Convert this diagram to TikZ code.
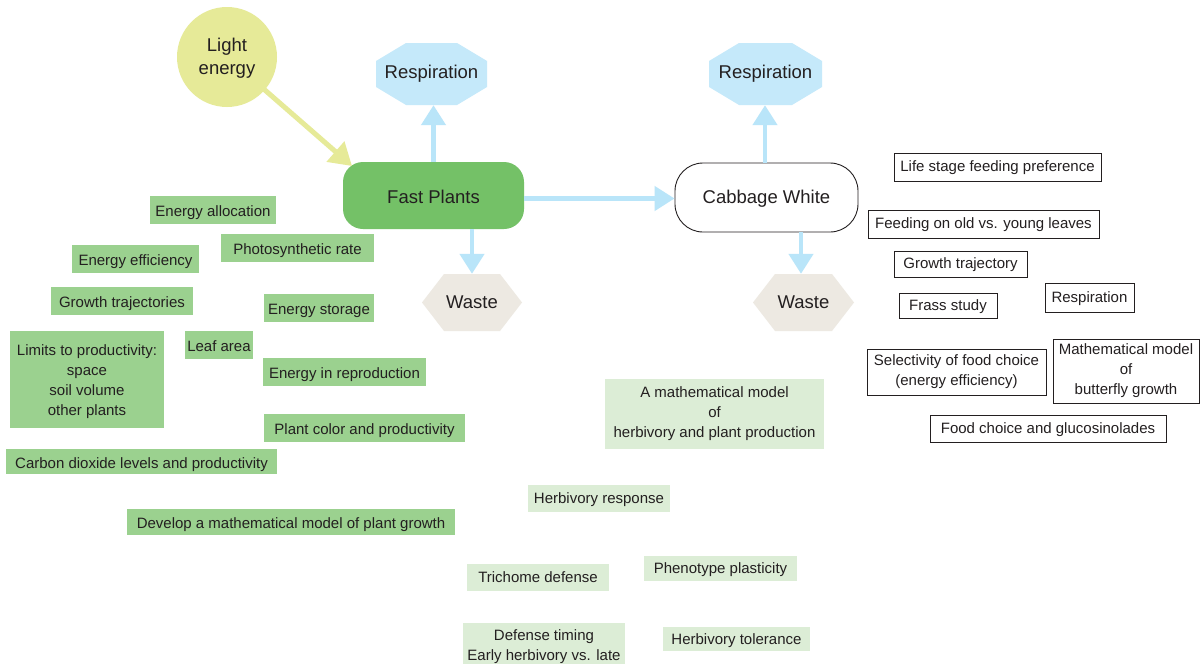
\documentclass[tikz,border=0pt]{standalone}
\usepackage{fontspec}
\setmainfont{Liberation Sans}
\usetikzlibrary{arrows.meta}
\definecolor{ink}{HTML}{231F20}
\definecolor{lightY}{HTML}{E6EA98}
\definecolor{fastG}{HTML}{74C167}
\definecolor{medG}{HTML}{9BD18F}
\definecolor{paleG}{HTML}{DCEDD6}
\definecolor{respB}{HTML}{C5E9FA}
\definecolor{arrB}{HTML}{B9E5F9}
\definecolor{wasteC}{HTML}{EDE9E2}
\newcommand{\smallfs}{\fontsize{15}{20}\selectfont}
\newcommand{\bigfs}{\fontsize{18.5}{23}\selectfont}
\newcommand{\dn}[2][2.3pt]{\raisebox{-#1}[\height][\depth]{#2}}
\tikzset{
  base/.style={inner sep=0pt, align=center, text=ink, font=\smallfs},
  sz/.style 2 args={minimum width=#1pt, minimum height=#2pt},
  gmed/.style={base, fill=medG, text height=14.2pt, text depth=0.8pt},
  gpale/.style={base, fill=paleG, text height=11.5pt, text depth=1.5pt},
  wbox/.style={base, draw=ink, line width=0.9pt, fill=white, text height=11pt, text depth=1.8pt},
  bigtxt/.style={base, font=\bigfs},
  octa/.style={bigtxt, path picture={
    \fill[respB] ([xshift=30pt]path picture bounding box.north west)
      -- ([xshift=-30pt]path picture bounding box.north east)
      -- ([yshift=-18pt]path picture bounding box.north east)
      -- ([yshift=18pt]path picture bounding box.south east)
      -- ([xshift=-30pt]path picture bounding box.south east)
      -- ([xshift=30pt]path picture bounding box.south west)
      -- ([yshift=18pt]path picture bounding box.south west)
      -- ([yshift=-18pt]path picture bounding box.north west) -- cycle;}},
  hexa/.style={bigtxt, path picture={
    \fill[wasteC] (path picture bounding box.west)
      -- ([xshift=22pt]path picture bounding box.north west)
      -- ([xshift=-22pt]path picture bounding box.north east)
      -- (path picture bounding box.east)
      -- ([xshift=-22pt]path picture bounding box.south east)
      -- ([xshift=22pt]path picture bounding box.south west) -- cycle;}},
  barrow/.style={draw=arrB, line width=4.5pt, -{Triangle[width=24pt,length=20pt]}},
  yarrow/.style={draw=lightY, line width=5pt, -{Triangle[width=26pt,length=22pt]}}
}
\begin{document}
\begin{tikzpicture}[x=1pt,y=-1pt]
\useasboundingbox (0,0) rectangle (1200,664);
\fill[white] (0,0) rectangle (1200,664);

% main nodes
\node[bigtxt, circle, fill=lightY, minimum size=100pt] (le) at (227,57) {\dn[1.7pt]{Light}\\\dn[1.7pt]{energy}};
\node[bigtxt, fill=fastG, rounded corners=20pt, sz={181}{67}] (fp) at (433.5,195.5) {\dn[1pt]{Fast Plants}};
\node[bigtxt, draw=ink, line width=0.9pt, fill=white, rounded corners=28pt, sz={183}{69}] (cw) at (766.5,197.5) {\dn[1.7pt]{Cabbage White}};
\node[octa, sz={111}{62}] (r1) at (431.5,74) {Respiration};
\node[octa, sz={113}{62}] (r2) at (765.5,74) {Respiration};
\node[hexa, sz={100}{57}] (w1) at (472,302.5) {Waste};
\node[hexa, sz={101}{57}] (w2) at (803.5,302.5) {Waste};

% connectors
\coordinate (ltip) at (352,166);
\draw[yarrow, shorten <=-1pt] (le) -- (ltip);
\draw[barrow] (fp.north) -- (fp.north |- r1.south);
\draw[barrow] ([yshift=-3pt]fp.east) -- ([yshift=-3pt]fp.east -| cw.west);
\draw[barrow] (fp.south -| w1.north) -- (w1.north);
\draw[barrow] ([xshift=-1.5pt]cw.north) -- ([xshift=-1.5pt]cw.north |- r2.south);
\draw[barrow] ([xshift=-2.5pt]cw.south -| w2.north) -- ([xshift=-2.5pt]w2.north);

% medium green boxes
\node[gmed, sz={126}{28}] (ea) at (213,210) {Energy allocation};
\node[gmed, sz={153}{28}] (pr) at (297.5,248) {Photosynthetic rate};
\node[gmed, sz={127}{28}] (ee) at (135.5,259) {Energy efficiency};
\node[gmed, sz={142}{28}] (gt) at (122,301) {Growth trajectories};
\node[gmed, sz={110}{28}] (es) at (319,308) {Energy storage};
\node[base, fill=medG, sz={154}{97}] (lim) at (87,379.5) {\dn{Limits to productivity:}\\\dn{space}\\\dn{soil volume}\\\dn{other plants}};
\node[gmed, sz={68}{28}] (la) at (219,345) {Leaf area};
\node[gmed, sz={163}{28}] (er) at (344.5,372) {Energy in reproduction};
\node[gmed, sz={201}{28}] (pc) at (364.5,428) {Plant color and productivity};
\node[gmed, sz={271}{25}] (cd) at (141.5,461.5) {Carbon dioxide levels and productivity};
\node[gmed, sz={328}{26}] (dm) at (291,522) {Develop a mathematical model of plant growth};

% pale green boxes
\node[base, fill=paleG, sz={219}{70}] (mm) at (714.5,414) {A mathematical model\\of\\herbivory and plant production};
\node[gpale, sz={142}{27}] (hr) at (599,498.5) {Herbivory response};
\node[gpale, sz={142}{27}] (td) at (538,577.5) {Trichome defense};
\node[gpale, sz={153}{25}] (pp) at (720.5,568.5) {Phenotype plasticity};
\node[base, fill=paleG, sz={162}{45}] (dt) at (544,645.5) {\dn[1pt]{Defense timing}\\\dn[1pt]{Early herbivory vs. late}};
\node[gpale, sz={147}{24}] (ht) at (736.5,639) {Herbivory tolerance};

% white boxes
\node[wbox, sz={207}{28}] (ls) at (997.5,167) {Life stage feeding preference};
\node[wbox, sz={231}{28}] (fo) at (983.5,224) {Feeding on old vs. young leaves};
\node[wbox, sz={133}{26}] (gtr) at (960.5,264) {Growth trajectory};
\node[wbox, sz={98}{25}] (fs) at (948,305.5) {Frass study};
\node[wbox, sz={89}{29}] (rs) at (1089.5,297.5) {Respiration};
\node[base, draw=ink, line width=0.9pt, fill=white, sz={179}{46}] (sel) at (956.5,372) {Selectivity of food choice\\(energy efficiency)};
\node[base, draw=ink, line width=0.9pt, fill=white, sz={146}{64}] (mb) at (1126,371) {Mathematical model\\of\\butterfly growth};
\node[wbox, sz={236}{27}] (fc) at (1048,428.5) {Food choice and glucosinolades};
\end{tikzpicture}
\end{document}
